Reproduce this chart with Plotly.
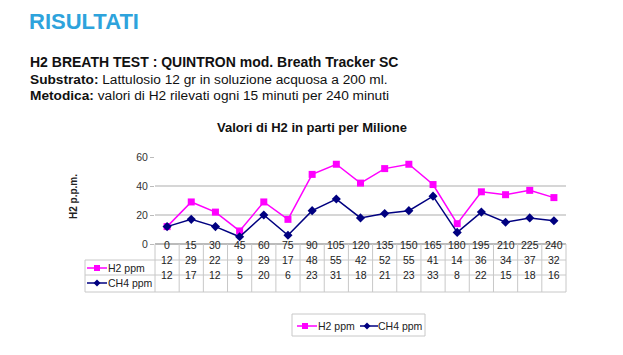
import plotly.graph_objects as go

minutes = [0, 15, 30, 45, 60, 75, 90, 105, 120, 135, 150, 165, 180, 195, 210, 225, 240]
h2_ppm = [12, 29, 22, 9, 29, 17, 48, 55, 42, 52, 55, 41, 14, 36, 34, 37, 32]
ch4_ppm = [12, 17, 12, 5, 20, 6, 23, 31, 18, 21, 23, 33, 8, 22, 15, 18, 16]
y_ticks = [0, 20, 40, 60]

OFF = 8  # default body margin of the html page
W, H = 623 - OFF, 355 - OFF
# plot area in reference (screen) pixels
L, R, T, B = 155, 566, 157, 244
FONT = "Liberation Sans, Arial, sans-serif"
MAG = "#ff00ff"
NAVY = "#000080"
GRID = "#d6d6d6"
TL = "#c8c8c8"


def px(xp):
    return (xp - L) / (R - L)


def py(yp):
    return (B - yp) / (B - T)


idx = list(range(len(minutes)))
ncol = len(minutes)

fig = go.Figure()
fig.add_trace(go.Scatter(
    x=idx, y=h2_ppm, name="H2 ppm", mode="lines+markers",
    line=dict(color=MAG, width=1.5),
    marker=dict(symbol="square", size=7, color=MAG)))
fig.add_trace(go.Scatter(
    x=idx, y=ch4_ppm, name="CH4 ppm", mode="lines+markers",
    line=dict(color=NAVY, width=1.5),
    marker=dict(symbol="diamond", size=7, color=NAVY)))

ann = []
shapes = []

# header texts
ann.append(dict(text="<b>RISULTATI</b>", x=px(27), y=py(22), xref="paper", yref="paper",
                xanchor="left", yanchor="middle", showarrow=False,
                font=dict(family=FONT, size=22, color="#2ea3dc")))
lines = [
    ("<b>H2 BREATH TEST : QUINTRON mod. Breath Tracker SC</b>", 62, 14),
    ("<b>Substrato:</b> Lattulosio 12 gr in soluzione acquosa a 200 ml.", 79, 13.7),
    ("<b>Metodica:</b> valori di H2 rilevati ogni 15 minuti per 240 minuti", 95, 13.7),
]
for t, yy, fs in lines:
    ann.append(dict(text=t, x=px(28), y=py(yy), xref="paper", yref="paper",
                    xanchor="left", yanchor="middle", showarrow=False,
                    font=dict(family=FONT, size=fs, color="#111111")))

# chart title
ann.append(dict(text="<b>Valori di H2 in parti per Milione</b>", x=px(312), y=py(127),
                xref="paper", yref="paper", xanchor="center", yanchor="middle",
                showarrow=False, font=dict(family=FONT, size=13, color="#111111")))

# y axis title
ann.append(dict(text="<b>H2 p.p.m.</b>", x=px(73), y=py(197), xref="paper", yref="paper",
                xanchor="center", yanchor="middle", textangle=-90, showarrow=False,
                font=dict(family=FONT, size=10, color="#222222")))

# data table
row_y = {"hdr": 253, "h2": 268, "ch4": 283}
tf = dict(family=FONT, size=10.5, color="#222222")
for i in idx:
    ann.append(dict(text=str(minutes[i]), x=i, y=py(row_y["hdr"]), xref="x", yref="paper",
                    showarrow=False, font=tf))
    ann.append(dict(text=str(h2_ppm[i]), x=i, y=py(row_y["h2"]), xref="x", yref="paper",
                    showarrow=False, font=tf))
    ann.append(dict(text=str(ch4_ppm[i]), x=i, y=py(row_y["ch4"]), xref="x", yref="paper",
                    showarrow=False, font=tf))

for yy in [260, 275, 292]:
    shapes.append(dict(type="line", xref="paper", yref="paper", x0=px(85), x1=1,
                       y0=py(yy), y1=py(yy), line=dict(color=TL, width=1)))
for i in range(ncol + 1):
    shapes.append(dict(type="line", xref="paper", yref="paper", x0=i / ncol, x1=i / ncol,
                       y0=py(244), y1=py(292), line=dict(color=TL, width=1)))
shapes.append(dict(type="line", xref="paper", yref="paper", x0=px(85), x1=px(85),
                   y0=py(260), y1=py(292), line=dict(color=TL, width=1)))


def key(x0, x1, xm, yc, col, sym, label, tx):
    shapes.append(dict(type="line", xref="paper", yref="paper", x0=px(x0), x1=px(x1),
                       y0=py(yc), y1=py(yc), line=dict(color=col, width=1.5)))
    if sym == "sq":
        shapes.append(dict(type="rect", xref="paper", yref="paper", x0=px(xm - 3), x1=px(xm + 3),
                           y0=py(yc + 3), y1=py(yc - 3), fillcolor=col, line=dict(width=0)))
    else:
        cx, cy = px(xm), py(yc)
        dx, dy = 3.5 / (R - L), 3.5 / (B - T)
        shapes.append(dict(type="path", xref="paper", yref="paper",
                           path=f"M {cx-dx} {cy} L {cx} {cy+dy} L {cx+dx} {cy} L {cx} {cy-dy} Z",
                           fillcolor=col, line=dict(width=0)))
    ann.append(dict(text=label, x=px(tx), y=py(yc), xref="paper", yref="paper",
                    xanchor="left", yanchor="middle", showarrow=False,
                    font=dict(family=FONT, size=10.5, color="#222222")))


# row labels with keys
key(87, 107, 97, row_y["h2"], MAG, "sq", "H2 ppm", 106)
key(87, 107, 97, row_y["ch4"], NAVY, "di", "CH4 ppm", 106)

# legend box
shapes.append(dict(type="rect", xref="paper", yref="paper", x0=px(292), x1=px(425),
                   y0=py(314), y1=py(336), line=dict(color=TL, width=1), fillcolor="white"))
key(297, 317, 305, 326, MAG, "sq", "H2 ppm", 316)
key(360, 378, 367, 326, NAVY, "di", "CH4 ppm", 376)

fig.update_layout(
    width=W, height=H,
    margin=dict(l=L - OFF, r=W - (R - OFF), t=T - OFF, b=H - (B - OFF), pad=0),
    paper_bgcolor="white", plot_bgcolor="white",
    font=dict(family=FONT, size=10, color="#333333"),
    annotations=ann, shapes=shapes,
    showlegend=False,
    xaxis=dict(range=[-0.5, ncol - 0.5], showgrid=False, zeroline=False,
               showticklabels=False, ticks="", showline=False, fixedrange=True),
    yaxis=dict(range=[0, 60], tickvals=y_ticks, showgrid=True, gridcolor=GRID,
               gridwidth=1.5, zeroline=True, zerolinecolor="#bbbbbb", zerolinewidth=1.5,
               ticks="outside", ticklen=4, tickcolor="#bbbbbb", showline=False,
               tickfont=dict(family=FONT, size=10.5, color="#333333"), fixedrange=True),
)

fig.write_html("out.html")
